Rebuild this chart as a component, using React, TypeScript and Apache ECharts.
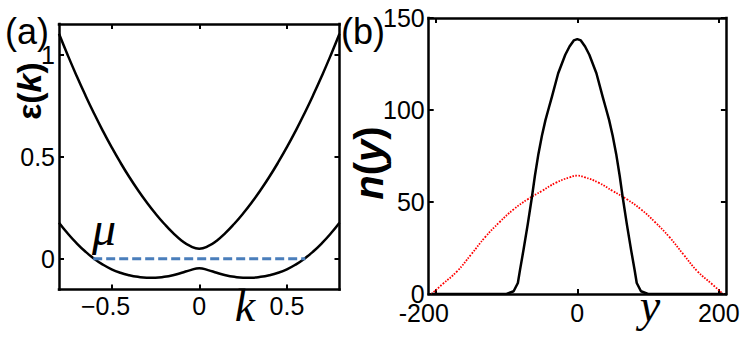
import React, { useEffect, useRef } from "react";
import * as echarts from "echarts";

// ---------- Panel (a): band dispersion ----------
const kValues = [
  -0.8, -0.75, -0.7, -0.65, -0.6, -0.55, -0.5, -0.45, -0.4, -0.35, -0.3, -0.25, -0.2, -0.15, -0.1, -0.05,
  0, 0.05, 0.1, 0.15, 0.2, 0.25, 0.3, 0.35, 0.4, 0.45, 0.5, 0.55, 0.6, 0.65, 0.7, 0.75, 0.8,
];
const upperBand = [
  1.102, 0.997, 0.897, 0.802, 0.712, 0.627, 0.547, 0.472, 0.402, 0.337, 0.277, 0.222, 0.172, 0.127, 0.089, 0.062,
  0.05, 0.062, 0.089, 0.127, 0.172, 0.222, 0.277, 0.337, 0.402, 0.472, 0.547, 0.627, 0.712, 0.802, 0.897, 0.997, 1.102,
];
const lowerBand = [
  0.177, 0.124, 0.077, 0.036, 0.001, -0.028, -0.051, -0.068, -0.08, -0.088, -0.092, -0.092, -0.088, -0.08, -0.068, -0.055,
  -0.046, -0.055, -0.068, -0.08, -0.088, -0.092, -0.092, -0.088, -0.08, -0.068, -0.051, -0.028, 0.001, 0.036, 0.077, 0.124, 0.177,
];
const muK = [-0.605, 0.605];
const muLevel = [0, 0];
const kTicks = [-0.5, 0, 0.5];
const epsTicks = [0, 0.5, 1];

// ---------- Panel (b): density profiles ----------
const redY = [-206, -190, -170, -150, -130, -110, -90, -70, -50, -30, -10, 0, 10, 30, 50, 70, 90, 110, 130, 150, 170, 190, 206];
const redN = [0, 5.5, 12.3, 21.5, 31, 39, 46, 51.5, 56, 60.5, 63.5, 64.3, 63.5, 60.5, 56, 51.5, 46, 39, 31, 21.5, 12.3, 5.5, 0];
const blackY = [
  -206, -100, -90, -84, -81, -76, -70, -64, -60, -55, -50, -45, -40, -36, -27, -17, -11, -5, 0,
  5, 11, 17, 27, 36, 40, 45, 50, 55, 60, 64, 70, 76, 81, 84, 90, 100, 206,
];
const blackN = [
  0, 0, 1.5, 6, 13, 24, 38, 53, 64, 76, 86, 94.5, 101.5, 107, 120, 130, 134.5, 137.8, 138.5,
  137.8, 134.5, 130, 120, 107, 101.5, 94.5, 86, 76, 64, 53, 38, 24, 13, 6, 1.5, 0, 0,
];
const yTicks = [-200, 0, 200];
const nTicks = [0, 50, 100, 150];

const SANS = "'Liberation Sans', Arial, sans-serif";
const SERIF = "'Liberation Serif', 'Times New Roman', serif";

export default function App() {
  const ref = useRef<HTMLDivElement>(null);

  useEffect(() => {
    if (!ref.current) return;
    const chart = echarts.init(ref.current, undefined, { renderer: "svg" });

    const tickStyle = { show: true, inside: true, length: 5, lineStyle: { color: "#000", width: 2 } };
    const lineStyle = { show: true, onZero: false, lineStyle: { color: "#000", width: 2.5, cap: "square" } };
    const labelBase = { color: "#000", fontSize: 25, fontFamily: SANS };

    const mkX = (grid: number, min: number, max: number, ticks: number[], pos: string, showLabel: boolean, negPad: number, minus: string) => ({
      gridIndex: grid,
      type: "value",
      min,
      max,
      position: pos,
      axisLine: lineStyle,
      splitLine: { show: false },
      axisTick: { ...tickStyle, customValues: ticks },
      axisLabel: {
        show: showLabel,
        customValues: ticks,
        margin: grid === 0 ? 4 : 6,
        ...labelBase,
        formatter: (v: number) => (v < 0 ? "{neg|" + minus + Math.abs(v) + "}" : String(v)),
        rich: { neg: { ...labelBase, padding: [0, negPad, 0, 0] } },
      },
    });
    const mkY = (grid: number, min: number, max: number, ticks: number[], pos: string, showLabel: boolean) => ({
      gridIndex: grid,
      type: "value",
      min,
      max,
      position: pos,
      axisLine: lineStyle,
      splitLine: { show: false },
      axisTick: { ...tickStyle, customValues: ticks },
      axisLabel: {
        show: showLabel,
        customValues: ticks,
        margin: 4,
        ...labelBase,
        formatter: (v: number) => String(v),
      },
    });

    const option = {
      animation: false,
      grid: [
        { left: 59, top: 24, width: 280.5, height: 265.5, show: false },
        { left: 428.7, top: 18, width: 297.2, height: 276, show: false },
      ],
      xAxis: [
        mkX(0, -0.8, 0.8, kTicks, "bottom", true, 12, "\u2212"),
        mkX(0, -0.8, 0.8, kTicks, "top", false, 0, "-"),
        mkX(1, -210, 210, yTicks, "bottom", true, 24, "-"),
        mkX(1, -210, 210, yTicks, "top", false, 0, "-"),
      ],
      yAxis: [
        mkY(0, -0.15, 1.15, epsTicks, "left", true),
        mkY(0, -0.15, 1.15, epsTicks, "right", false),
        mkY(1, 0, 150, nTicks, "left", true),
        mkY(1, 0, 150, nTicks, "right", false),
      ],
      series: [
        {
          type: "line",
          xAxisIndex: 0,
          yAxisIndex: 0,
          data: kValues.map((k, i) => [k, upperBand[i]]),
          showSymbol: false,
          smooth: true,
          lineStyle: { color: "#000", width: 2.5 },
        },
        {
          type: "line",
          xAxisIndex: 0,
          yAxisIndex: 0,
          data: kValues.map((k, i) => [k, lowerBand[i]]),
          showSymbol: false,
          smooth: true,
          lineStyle: { color: "#000", width: 2.5 },
        },
        {
          type: "line",
          xAxisIndex: 0,
          yAxisIndex: 0,
          data: muK.map((k, i) => [k, muLevel[i]]),
          showSymbol: false,
          lineStyle: { color: "#4a7ebb", width: 3, type: [9, 4] },
        },
        {
          type: "line",
          xAxisIndex: 2,
          yAxisIndex: 2,
          data: redY.map((y, i) => [y, redN[i]]),
          showSymbol: false,
          smooth: true,
          lineStyle: { color: "#ff0000", width: 1.8, type: [1.6, 1.4] },
        },
        {
          type: "line",
          xAxisIndex: 2,
          yAxisIndex: 2,
          data: blackY.map((y, i) => [y, blackN[i]]),
          showSymbol: false,
          smooth: false,
          lineStyle: { color: "#000", width: 2.5, join: "round" },
        },
      ],
      graphic: [
        { type: "text", x: 5, y: 31, style: { text: "(a)", font: "36px " + SANS, fill: "#000", align: "left", verticalAlign: "middle" } },
        { type: "text", x: 341, y: 31, style: { text: "(b)", font: "36px " + SANS, fill: "#000", align: "left", verticalAlign: "middle" } },
        {
          type: "text",
          x: 29,
          y: 91,
          rotation: Math.PI / 2,
          style: {
            text: "{a|ε(}{b|k}{a|)}",
            align: "center",
            verticalAlign: "middle",
            rich: {
              a: { fontSize: 34, fontWeight: "bold", fontFamily: SANS, fill: "#000", color: "#000" },
              b: { fontSize: 34, fontWeight: "bold", fontStyle: "italic", fontFamily: SANS, fill: "#000", color: "#000" },
            },
          },
        },
        {
          type: "text",
          x: 369,
          y: 163,
          rotation: Math.PI / 2,
          style: {
            text: "{b|n}{a|(}{b|y}{a|)}",
            align: "center",
            verticalAlign: "middle",
            rich: {
              a: { fontSize: 40, fontWeight: "bold", fontFamily: SANS, fill: "#000", color: "#000" },
              b: { fontSize: 40, fontWeight: "bold", fontStyle: "italic", fontFamily: SANS, fill: "#000", color: "#000" },
            },
          },
        },
        { type: "text", x: 245, y: 305, style: { text: "k", font: "italic 46px " + SERIF, fill: "#000", align: "center", verticalAlign: "middle" } },
        { type: "text", x: 650, y: 305, style: { text: "y", font: "italic 46px " + SERIF, fill: "#000", align: "center", verticalAlign: "middle" } },
        { type: "text", x: 104, y: 228, style: { text: "μ", font: "italic 48px " + SERIF, fill: "#000", align: "center", verticalAlign: "middle" } },
      ],
    };

    chart.setOption(option as any);
    return () => chart.dispose();
  }, []);

  return <div ref={ref} style={{ position: "fixed", left: 0, top: 0, width: 747, height: 340, background: "#fff" }} />;
}
